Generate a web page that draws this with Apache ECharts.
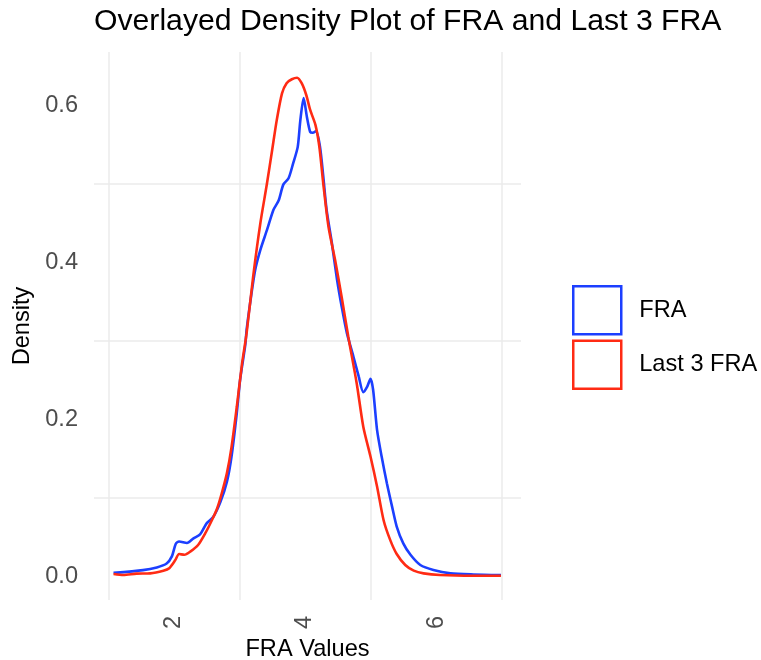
<!DOCTYPE html>
<html>
<head>
<meta charset="utf-8">
<script src="https://cdn.jsdelivr.net/npm/echarts@6/dist/echarts.min.js"></script>
<style>
  html, body { margin: 0; padding: 0; background: #fff; }
  #main { width: 761px; height: 660px; }
</style>
</head>
<body>
<div id="main"></div>
<script>
const chartDom = document.getElementById('main');
const myChart = echarts.init(chartDom);

const FONT = "'Liberation Sans', Arial, Helvetica, sans-serif";

// density curves
const fraX = [1.08, 1.53, 1.74, 1.89, 1.97, 2.03, 2.08, 2.20, 2.30, 2.40, 2.50, 2.60, 2.71, 2.81, 2.88,
    2.96, 3.01, 3.09, 3.11, 3.16, 3.24, 3.32, 3.42, 3.52, 3.60, 3.67, 3.75, 3.82, 3.89, 3.93,
    3.98, 4.03, 4.08, 4.12, 4.17, 4.23, 4.28, 4.33, 4.41, 4.49, 4.56, 4.64, 4.74, 4.82, 4.89,
    4.95, 5.00, 5.04, 5.10, 5.17, 5.25, 5.33, 5.40, 5.50, 5.61, 5.76, 5.96, 6.22, 6.57, 6.99];
const fraY = [0.005, 0.0085, 0.012, 0.017, 0.026, 0.042, 0.045, 0.043, 0.049, 0.054, 0.068, 0.076, 0.095, 0.121, 0.153,
    0.208, 0.250, 0.295, 0.314, 0.346, 0.390, 0.416, 0.441, 0.467, 0.479, 0.499, 0.507, 0.526, 0.547, 0.581,
    0.609, 0.585, 0.566, 0.565, 0.567, 0.547, 0.509, 0.467, 0.425, 0.378, 0.344, 0.310, 0.280, 0.255, 0.235,
    0.242, 0.252, 0.238, 0.187, 0.153, 0.119, 0.089, 0.064, 0.0425, 0.028, 0.015, 0.0086, 0.0044, 0.003, 0.0023];

const last3X = [1.08, 1.23, 1.43, 1.64, 1.84, 1.93, 2.02, 2.08, 2.16, 2.25, 2.37, 2.48, 2.58, 2.66, 2.73,
    2.81, 2.88, 2.96, 3.04, 3.11, 3.21, 3.32, 3.42, 3.50, 3.57, 3.65, 3.72, 3.80, 3.88, 3.95,
    4.02, 4.08, 4.16, 4.22, 4.28, 4.36, 4.46, 4.56, 4.66, 4.79, 4.89, 5.00, 5.10, 5.20, 5.30,
    5.40, 5.53, 5.66, 5.81, 6.06, 6.57, 6.99];
const last3Y = [0.0035, 0.0023, 0.004, 0.0044, 0.0078, 0.011, 0.021, 0.029, 0.028, 0.032, 0.0405, 0.0555, 0.072, 0.087, 0.106,
    0.132, 0.165, 0.216, 0.271, 0.31, 0.382, 0.450, 0.500, 0.543, 0.581, 0.615, 0.628, 0.633, 0.635, 0.628,
    0.613, 0.594, 0.575, 0.547, 0.500, 0.445, 0.403, 0.356, 0.306, 0.246, 0.191, 0.153, 0.115, 0.072, 0.047,
    0.029, 0.015, 0.0078, 0.0044, 0.0023, 0.0014, 0.0014];

const seriesNames = ['FRA', 'Last 3 FRA'];
const seriesColors = ['#1c3fff', '#ff2b14'];

const xLabels = [2, 4, 6];
const xGrid = [1, 3, 5, 7];
const yLabels = [0, 0.2, 0.4, 0.6];
const yGrid = [0.1, 0.3, 0.5];

const zip = (xs, ys) => xs.map((x, i) => [x, ys[i]]);
const curves = [zip(fraX, fraY), zip(last3X, last3Y)];

let option = {
    backgroundColor: '#fff',
    textStyle: { fontFamily: FONT },
    title: {
        text: 'Overlayed Density Plot of FRA and Last 3 FRA',
        left: 94,
        top: 7,
        padding: 0,
        textStyle: { fontFamily: FONT, fontSize: 30.2, fontWeight: 'normal', color: '#000' }
    },
    legend: {
        orient: 'vertical',
        left: 572,
        top: 285,
        padding: 0,
        itemWidth: 48,
        itemHeight: 48,
        itemGap: 4,
        selectedMode: false,
        textStyle: { fontFamily: FONT, fontSize: 23.6, color: '#000', padding: [0, 0, 0, 13] },
        data: seriesNames.map((name, i) => ({
            name: name,
            icon: 'rect',
            itemStyle: { color: '#fff', borderColor: seriesColors[i], borderWidth: 2.5 }
        }))
    },
    grid: { left: 94, right: 240, top: 52, bottom: 60, outerBoundsMode: 'none', containLabel: false },
    xAxis: {
        type: 'value',
        min: 0.782,
        max: 7.296,
        name: 'FRA Values',
        nameLocation: 'middle',
        nameGap: 35,
        nameTextStyle: { fontFamily: FONT, fontSize: 23.6, color: '#000' },
        axisLine: { show: false },
        axisTick: { show: false, customValues: xGrid },
        axisLabel: {
            customValues: xLabels,
            rotate: 90,
            margin: 16,
            fontFamily: FONT,
            fontSize: 23.6,
            color: '#4d4d4d'
        },
        splitLine: { show: true, lineStyle: { color: '#ebebeb', width: 1.5 } }
    },
    yAxis: {
        type: 'value',
        min: -0.0295,
        max: 0.6677,
        name: 'Density',
        nameLocation: 'middle',
        nameRotate: 90,
        nameGap: 58,
        nameTextStyle: { fontFamily: FONT, fontSize: 23.6, color: '#000' },
        axisLine: { show: false },
        axisTick: { show: false, customValues: yGrid },
        axisLabel: {
            customValues: yLabels,
            margin: 16,
            fontFamily: FONT,
            fontSize: 23.6,
            color: '#4d4d4d',
            formatter: v => v.toFixed(1)
        },
        splitLine: { show: true, lineStyle: { color: '#ebebeb', width: 1.5 } }
    },
    series: curves.map((data, i) => ({
        name: seriesNames[i],
        type: 'line',
        data: data,
        smooth: 0.25,
        symbol: 'none',
        color: seriesColors[i],
        lineStyle: { color: seriesColors[i], width: 2.6 },
        emphasis: { disabled: true },
        animation: false
    }))
};

option && myChart.setOption(option);
</script>
</body>
</html>
